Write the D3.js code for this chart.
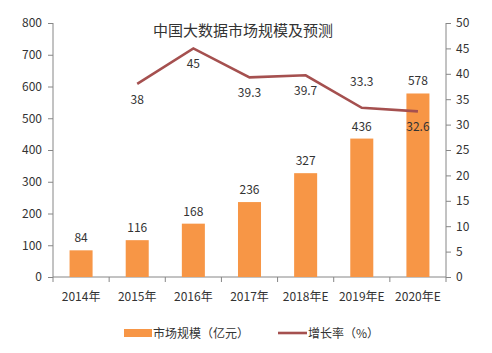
<!DOCTYPE html>
<html><head><meta charset="utf-8">
<script src="https://cdn.jsdelivr.net/npm/d3@7"></script>
<style>
body { margin: 0; background: #fff; }
svg text { font-family: "Noto Sans CJK SC", "Noto Sans", sans-serif; fill: #333; }
</style></head>
<body><svg id="chart" width="492" height="353"></svg>
<script>
const years = ['2014年', '2015年', '2016年', '2017年', '2018年E', '2019年E', '2020年E'];
const marketSize = [84, 116, 168, 236, 327, 436, 578];
const growthYears = ['2015年', '2016年', '2017年', '2018年E', '2019年E', '2020年E'];
const growthRate = [38, 45, 39.3, 39.7, 33.3, 32.6];
// label placement for growth values: below unless noted
const growthLabelAbove = [false, false, false, false, true, false];
const leftTicks = [0, 100, 200, 300, 400, 500, 600, 700, 800];
const rightTicks = [0, 5, 10, 15, 20, 25, 30, 35, 40, 45, 50];

(function draw() {
  const svg = d3.select('#chart');
  const plotL = 53, plotR = 446, plotT = 23, plotB = 277;

  const x = d3.scaleBand().domain(years).range([plotL, plotR]).paddingInner(0.59).paddingOuter(0.295);
  const xb = d3.scaleBand().domain(years).range([plotL, plotR]);
  const yL = d3.scaleLinear().domain([0, 800]).range([plotB, plotT]);
  const yR = d3.scaleLinear().domain([0, 50]).range([plotB, plotT]);

  const axisColor = '#868686';

  // left axis
  const gl = svg.append('g').attr('transform', `translate(${plotL},0)`)
    .call(d3.axisLeft(yL).tickValues(leftTicks).tickSize(5).tickPadding(6));
  gl.selectAll('path,line').attr('stroke', axisColor);
  gl.selectAll('text').attr('font-size', 12).attr('fill', '#333');
  gl.select('.domain').attr('d', `M0,${plotT}V${plotB}`);

  // right axis
  const gr = svg.append('g').attr('transform', `translate(${plotR},0)`)
    .call(d3.axisRight(yR).tickValues(rightTicks).tickSize(5).tickPadding(5));
  gr.selectAll('path,line').attr('stroke', axisColor);
  gr.selectAll('text').attr('font-size', 12).attr('fill', '#333');
  gr.select('.domain').attr('d', `M0,${plotT}V${plotB}`);

  // bottom axis (ticks at category boundaries)
  const bx = svg.append('g');
  bx.append('line').attr('x1', plotL).attr('x2', plotR).attr('y1', plotB).attr('y2', plotB).attr('stroke', axisColor);
  bx.selectAll('line.tk').data(years.concat(['end'])).join('line')
    .attr('class', 'tk')
    .attr('x1', (d, i) => plotL + i * xb.step()).attr('x2', (d, i) => plotL + i * xb.step())
    .attr('y1', plotB).attr('y2', plotB + 5).attr('stroke', axisColor);
  bx.selectAll('text').data(years).join('text')
    .attr('x', d => xb(d) + xb.bandwidth() / 2)
    .attr('y', plotB + 24)
    .attr('text-anchor', 'middle').attr('font-size', 12)
    .text(d => d);

  // bars
  svg.append('g').selectAll('rect').data(marketSize).join('rect')
    .attr('x', (d, i) => x(years[i]))
    .attr('width', x.bandwidth())
    .attr('y', d => yL(d))
    .attr('height', d => yL(0) - yL(d))
    .attr('fill', '#F79646');
  svg.append('g').selectAll('text').data(marketSize).join('text')
    .attr('x', (d, i) => x(years[i]) + x.bandwidth() / 2)
    .attr('y', d => yL(d) - 8)
    .attr('text-anchor', 'middle').attr('font-size', 12)
    .text(d => d);

  // growth line
  const cx = d => xb(d) + xb.bandwidth() / 2;
  const line = d3.line().x(d => cx(d.year)).y(d => yR(d.v));
  const lineData = growthYears.map((year, i) => ({ year, v: growthRate[i] }));
  svg.append('path').datum(lineData)
    .attr('d', line).attr('fill', 'none')
    .attr('stroke', '#A5504F').attr('stroke-width', 2.6);
  svg.append('g').selectAll('text').data(lineData).join('text')
    .attr('x', d => cx(d.year))
    .attr('y', (d, i) => growthLabelAbove[i] ? yR(d.v) - 22 : yR(d.v) + 20)
    .attr('text-anchor', 'middle').attr('font-size', 12)
    .text(d => d.v);

  // title
  svg.append('text').attr('x', 243).attr('y', 36).attr('text-anchor', 'middle')
    .attr('font-size', 15).attr('fill', '#222').text('中国大数据市场规模及预测');

  // legend
  const lg = svg.append('g');
  lg.append('rect').attr('x', 124).attr('y', 329).attr('width', 28).attr('height', 8).attr('fill', '#F79646');
  lg.append('text').attr('x', 153).attr('y', 338).attr('font-size', 12).text('市场规模（亿元）');
  lg.append('line').attr('x1', 278).attr('x2', 307).attr('y1', 333).attr('y2', 333)
    .attr('stroke', '#A5504F').attr('stroke-width', 2.6);
  lg.append('text').attr('x', 308).attr('y', 338).attr('font-size', 12).text('增长率（%）');
})();
</script></body></html>
